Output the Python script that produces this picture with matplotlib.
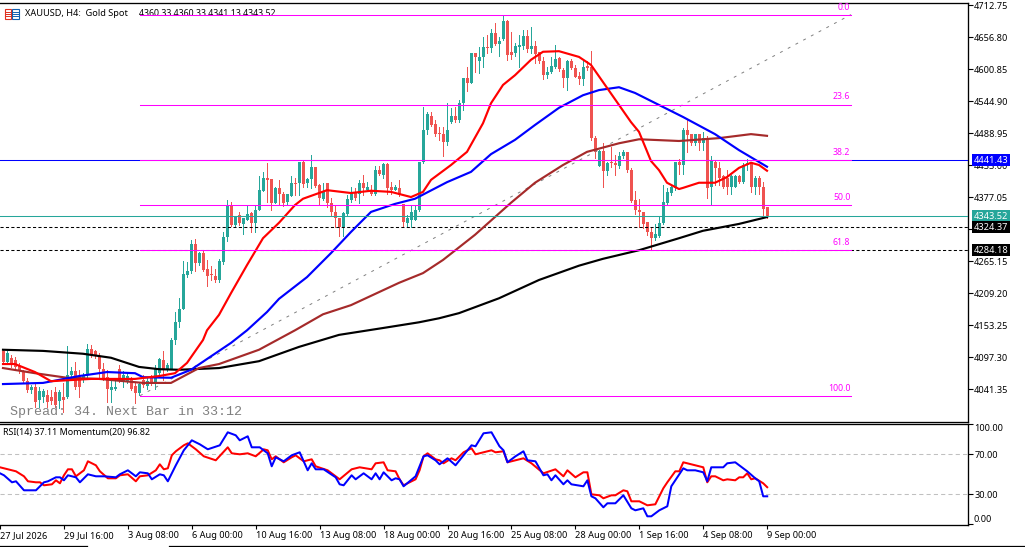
import matplotlib
matplotlib.use("Agg")
import matplotlib.pyplot as plt
from matplotlib.patches import Rectangle
from matplotlib.lines import Line2D
from matplotlib.transforms import blended_transform_factory
import numpy as np

plt.rcParams['font.family'] = ['Noto Sans', 'DejaVu Sans']

opens = [4107,4089,4095,4092,4082,4072,4056,4040,4045,4022,4028,4031,4028,4037,4021,4028,4027,4066,4073,4062,4057,4068,4112,4107,4099,4077,4062,4040,4041,4077,4054,4054,4057,4047,4035,4057,4047,4060,4054,4069,4092,4075,4077,
 4127,4159,4182,4241,4248,4295,4261,4279,4251,4241,4239,4232,4264,4307,4361,4328,4346,4330,4337,4349,4331,4355,4388,4410,4408,4367,4392,4383,4369,4379,4402,4401,4439,4401,4408,4429,4398,4373,4402,4366,4351,4340,4325,4347,4372,4385,4383,4402,4389,4389,4383,4424,4415,4435,4395,4390,4392,4365,4331,4337,4337,4354,4438,
 4494,4519,4505,4488,4488,4473,4509,4519,4511,4541,4585,4577,4628,4614,4621,4640,4637,4664,4645,4653,4685,4631,4629,4640,4641,4659,4635,4641,4631,4615,4590,4596,4604,4620,4599,4585,4615,4602,4589,4583,4606,4605,4480,4431,4458,4423,4437,4436,4431,4448,4455,4425,4372,4355,4351,4334,4315,
 4305,4309,4331,4366,4384,4392,4439,4433,4494,4487,4471,4487,4471,4480,4394,4439,4427,4413,4411,4394,4395,4414,4404,4433,4436,4394,4411,4394,4360.33]
highs = [4110,4107,4101,4098,4086,4075,4060,4048,4051,4045,4042,4040,4040,4045,4040,4051,4117,4080,4089,4075,4069,4120,4118,4110,4105,4086,4075,4055,4060,4083,4072,4069,4063,4054,4054,4066,4060,4066,4083,4095,4107,4086,4130,
 4176,4200,4266,4264,4302,4303,4281,4283,4267,4256,4252,4268,4316,4372,4369,4344,4350,4340,4361,4351,4363,4413,4420,4436,4408,4394,4406,4386,4383,4413,4410,4439,4442,4410,4451,4429,4400,4402,4402,4375,4363,4340,4350,4381,4395,4392,4407,4416,4404,4398,4431,4431,4436,4436,4404,4398,4406,4365,4346,4361,4361,4439,4535,
 4526,4526,4512,4499,4499,4541,4532,4534,4547,4585,4605,4628,4629,4639,4657,4660,4670,4682,4656,4695,4687,4666,4647,4660,4669,4669,4675,4650,4631,4622,4605,4622,4643,4621,4602,4617,4618,4608,4596,4619,4614,4633,4483,4460,4471,4439,4465,4451,4456,4460,4456,4427,4388,4373,4351,4334,4325,
 4330,4344,4398,4392,4396,4439,4443,4497,4512,4488,4488,4488,4490,4483,4448,4442,4439,4416,4424,4416,4416,4416,4436,4443,4439,4413,4414,4404,4360.33]
lows = [4085,4086,4080,4075,4069,4054,4037,4034,4010,4010,4019,4010,4016,4010,4008,4002,4025,4063,4042,4028,4054,4058,4098,4095,4060,4057,4019,4019,4040,4054,4045,4051,4040,4017,4031,4045,4042,4048,4042,4063,4057,4072,4076,
 4120,4150,4182,4237,4244,4248,4258,4248,4221,4232,4229,4229,4260,4301,4326,4326,4328,4312,4336,4315,4316,4355,4388,4369,4355,4366,4363,4361,4365,4378,4381,4381,4395,4395,4392,4394,4363,4372,4360,4346,4325,4309,4309,4344,4369,4371,4367,4381,4388,4381,4381,4415,4410,4383,4383,4389,4378,4325,4324,4324,4336,4353,4436,
 4488,4501,4483,4477,4449,4468,4507,4509,4509,4529,4563,4576,4596,4594,4605,4628,4631,4642,4624,4652,4617,4618,4624,4605,4635,4631,4629,4612,4611,4583,4585,4594,4602,4598,4569,4565,4600,4586,4575,4573,4599,4477,4445,4431,4395,4415,4430,4415,4427,4445,4421,4369,4348,4325,4322,4311,4287,
 4302,4307,4330,4363,4381,4389,4417,4418,4456,4468,4468,4459,4460,4375,4363,4398,4398,4392,4383,4382,4394,4401,4402,4424,4385,4383,4383,4343,4341.13]
closes = [4089,4104,4083,4080,4073,4056,4040,4045,4019,4038,4038,4019,4020,4013,4037,4022,4066,4073,4044,4044,4066,4112,4101,4099,4077,4060,4041,4045,4045,4057,4066,4064,4042,4035,4050,4048,4056,4052,4077,4093,4075,4083,4127,
 4159,4182,4242,4248,4295,4261,4279,4249,4239,4240,4232,4266,4308,4363,4328,4343,4331,4340,4347,4331,4355,4390,4410,4407,4367,4392,4382,4367,4382,4401,4400,4439,4400,4408,4429,4396,4375,4386,4366,4350,4340,4325,4349,4373,4385,4376,4402,4392,4395,4382,4424,4417,4435,4392,4390,4395,4381,4334,4340,4350,4355,4439,4494,
 4522,4503,4487,4487,4473,4494,4519,4511,4541,4585,4577,4628,4622,4621,4640,4638,4664,4645,4650,4685,4625,4625,4641,4643,4659,4635,4641,4627,4614,4590,4596,4606,4618,4600,4585,4615,4602,4587,4583,4604,4602,4480,4455,4458,4423,4437,4436,4433,4449,4455,4424,4370,4354,4350,4330,4315,4306,
 4312,4331,4369,4386,4394,4439,4433,4495,4485,4471,4487,4471,4480,4393,4441,4427,4411,4395,4395,4414,4414,4404,4433,4436,4394,4411,4394,4356,4343.52]

ma20_bar = [0,3,8,12,22,33,39,43,46,50,51,54,57,61,65,69,73,75,81,87,92,97,102,105,107,112,116,120,122,125,128,132,135,139,144,147,150,154,157,159,162,164,166,169,170,174,178,181,184,187,189,191]
ma20 = [4085,4085,4071,4055,4059,4059,4064,4069,4087,4127,4144,4171,4209,4258,4305,4332,4363,4374,4389,4384,4388,4386,4377,4386,4407,4433,4456,4506,4541,4573,4590,4617,4631,4632,4622,4608,4578,4538,4508,4491,4440,4424,4402,4391,4393,4402,4402,4412,4428,4437,4433,4423]
ma50_bar = [0,10,19,26,33,35,42,47,57,61,66,69,76,82,87,92,98,103,111,117,122,128,133,139,145,149,154,158,164,170,178,184,191]
ma50 = [4050,4052,4064,4071,4069,4062,4061,4075,4122,4144,4176,4199,4237,4279,4316,4351,4365,4374,4403,4421,4452,4477,4503,4533,4555,4564,4569,4559,4538,4517,4487,4459,4430]
ma100_bar = [0,8,16,24,35,42,49,54,64,73,80,87,99,105,110,118,127,133,140,146,154,159,169,179,187,191]
ma100 = [4078,4069,4061,4059,4052,4052,4078,4085,4110,4144,4172,4188,4227,4244,4267,4311,4367,4402,4433,4456,4471,4478,4475,4480,4487,4484]
ma200_bar = [0,10,20,27,34,39,44,54,64,74,84,95,104,109,114,124,134,144,150,159,169,175,184,191]
ma200 = [4110,4108,4103,4096,4080,4076,4075,4078,4090,4115,4136,4148,4158,4165,4174,4200,4232,4257,4269,4284,4305,4318,4330,4342]

fib_high = 4695.96
fib_low = 4029.6
fib_pcts = [0.0, 23.6, 38.2, 50.0, 61.8, 100.0]
fib_start_bar = 34.25
fib_end_bar = 212
level_blue = 4441.43
level_last = 4343.52
level_dash = [4324.37, 4284.18]
price_ticks = [4712.75,4656.80,4600.85,4544.90,4488.95,4433.00,4377.05,4321.10,4265.15,4209.20,4153.25,4097.30,4041.35]
price_labels = ['4712.75','4656.80','4600.85','4544.90','4488.95','4433.00','4377.05','','4265.15','4209.20','4153.25','4097.30','4041.35']

rsi_bar = [-1,1,3,5,6,8,9,10,12,13,14,15,16,17,18,20,21,23,24,26,28,29,31,33,34,36,38,39,40,41,42,43,45,46,48,50,53,56,57,59,61,63,65,66,67,68,70,72,73,75,77,78,81,84,87,89,92,93,95,96,98,99,
 100,103,104,105,106,108,109,110,112,113,115,117,118,122,123,125,126,130,132,135,138,140,141,143,145,146,147,149,150,152,153,155,156,157,159,161,163,165,166,168,169,170,173,175,176,177,178,180,181,183,184,185,186,187,188,190,191]
rsi = [57,55,53,48,43,42,42,39,40,44,41,49,55,55,48,54,63,59,53,46,46,49,50,43,48,49,54,60,55,56,69,73,79,81,75,68,64,77,71,70,71,68,75,74,65,68,62,67,69,63,65,58,54,45,55,57,55,61,62,54,53,45,
 39,45,54,68,71,65,64,61,66,64,72,76,70,74,72,73,62,66,61,51,55,48,54,47,52,52,30,29,26,29,29,34,33,23,23,19,20,36,42,53,53,62,59,57,42,48,48,44,45,44,47,47,51,45,46,41,37.11]
mom_bar = [-1,0,2,3,5,8,10,11,13,14,15,16,18,19,21,23,25,28,29,31,33,34,36,37,39,40,41,43,45,47,49,51,54,56,58,59,61,62,64,66,67,68,70,72,74,76,77,78,80,83,84,85,87,88,90,92,93,94,95,97,98,99,
 100,103,104,105,106,108,109,111,113,115,117,118,120,122,124,125,126,128,130,131,133,135,136,137,138,140,141,142,145,146,147,148,150,151,153,155,157,158,160,161,162,164,166,167,168,170,171,173,175,176,177,180,181,183,185,186,188,189,190,191]
mom_on_scale = [51,49,42,43,34,34,42,43,47,47,44,49,47,42,50,48,48,47,50,54,48,52,51,45,50,49,43,59,74,84,80,75,79,92,89,84,88,77,77,71,58,67,63,69,72,54,61,55,55,47,40,39,49,45,51,45,51,45,52,44,46,45,
 38,48,58,68,69,64,60,66,59,69,79,78,91,92,78,74,62,68,73,64,63,49,50,44,49,40,44,40,38,44,28,26,17,21,21,29,16,14,16,8,8,14,18,38,44,56,54,54,52,43,57,57,61,62,56,53,46,43,28,28]
rsi_ticks = [100, 70, 30, 0]
rsi_levels = [70, 30]
time_bars = [-1,15,31,47,63,79,95,111,127,143,159,175,191]
time_labels = ['27 Jul 2026','29 Jul 16:00','3 Aug 08:00','6 Aug 00:00','10 Aug 16:00','13 Aug 08:00','18 Aug 00:00','20 Aug 16:00','25 Aug 08:00','28 Aug 00:00','1 Sep 16:00','4 Sep 08:00','9 Sep 00:00']

W, H = 1025, 547
fig = plt.figure(figsize=(W/100, H/100), dpi=100, facecolor='white')
def box(x0, ytop, x1, ybot):
    return [x0/W, 1-ybot/H, (x1-x0)/W, (ybot-ytop)/H]

AX_R = 968
xlim = (-0.75, (AX_R-3)/4)
ax = fig.add_axes(box(0, 2.5, AX_R, 421.5))
ax.set_xlim(*xlim)
px = 1.7484
ax.set_ylim(4721.5-px*421.5, 4721.5-px*2.5)
ax2 = fig.add_axes(box(0, 424, AX_R, 525))
ax2.set_xlim(*xlim)
ax2.set_ylim(-0.7, 100.3)

TEAL, RED = '#26a69a', '#ef5350'
FS = 6.6
for a in (ax, ax2):
    a.spines['left'].set_visible(False)
    for s in ('top','right','bottom'):
        a.spines[s].set_linewidth(0.95)
    a.tick_params(axis='y', direction='out', length=3.5, width=0.8, right=True, left=False,
                  labelright=True, labelleft=False, labelsize=FS, pad=1)
    a.set_facecolor('white')

# candles
o, h, l, c = map(np.array, (opens, highs, lows, closes))
bars = np.arange(len(o))
cols = np.where(c >= o, TEAL, RED)
ax.vlines(bars, l, h, colors=cols, linewidth=0.72, zorder=2, antialiased=False)
ax.bar(bars, np.maximum(np.abs(c-o), 1.75), bottom=np.minimum(o, c), width=0.75, color=cols,
       linewidth=0, zorder=3, antialiased=False)

# moving averages
MA_LW = 1.55
ax.plot(ma200_bar, ma200, color='black', lw=MA_LW, zorder=5, solid_joinstyle='round')
ax.plot(ma100_bar, ma100, color='#a52a2a', lw=MA_LW, zorder=5)
ax.plot(ma50_bar, ma50, color='#0000ff', lw=MA_LW, zorder=5)
ax.plot(ma20_bar, ma20, color='#ff0000', lw=MA_LW, zorder=6)

# levels
LL = 0.75
ax.axhline(level_blue, color='#0000ff', lw=LL, zorder=4)
ax.axhline(level_last, color=TEAL, lw=LL, zorder=7)
for lv in level_dash:
    ax.axhline(lv, color='black', lw=LL, ls=(0, (3, 2.2)), zorder=4)

# fibonacci
ax.plot([fib_start_bar, fib_end_bar], [fib_low, fib_high], color='#808080', lw=0.7, ls=(0, (3, 6)), zorder=4)
for pct in fib_pcts:
    lv = fib_high - (fib_high-fib_low)*pct/100
    ax.plot([fib_start_bar, fib_end_bar], [lv, lv], color='#ff00ff', lw=LL, zorder=8)
    ax.annotate(f'{pct:.1f}', (fib_end_bar, lv), xytext=(-0.5, 2.2), textcoords='offset points',
                ha='right', va='bottom', color='#ff00ff', fontsize=FS-0.3, zorder=9)

ax.set_xticks([])
ax.set_yticks(price_ticks)
ax.set_yticklabels(price_labels)

# value boxes on price scale
trans = blended_transform_factory(ax.transAxes, ax.transData)
for val, bg in ((level_blue, '#0000ff'), (level_last, TEAL), (level_dash[0], 'black'), (level_dash[1], 'black')):
    xr = 972/AX_R
    ax.add_patch(Rectangle((xr, val-5.8*px), 38/AX_R, 11.6*px, transform=trans, facecolor=bg,
                           edgecolor='none', clip_on=False, zorder=20))
    ax.text(xr+2/AX_R, val-0.3*px, f'{val:.2f}', transform=trans, color='white', fontsize=FS,
            va='center', ha='left', clip_on=False, zorder=21)

# header, under the magenta 0.0 level
ax.text(25/W, 1-13.5/H, 'XAUUSD, H4:  Gold Spot', transform=fig.transFigure, fontsize=FS, va='center', ha='left', color='black', zorder=7)
ax.text(139/W, 1-13.5/H, '4360.33 4360.33 4341.13 4343.52', transform=fig.transFigure, fontsize=FS-0.3, va='center', ha='left', color='black', zorder=7)
for x0, colr in ((4.5, '#e03020'), (12, '#1060b0')):
    fig.add_artist(Rectangle((x0/W, 1-18.5/H), 6.5/W, 10/H, transform=fig.transFigure, facecolor='white', edgecolor=colr, lw=0.8))
    for yy in (11.5, 14, 16):
        fig.add_artist(Line2D([(x0+1)/W, (x0+5.5)/W], [1-yy/H]*2, color=colr, lw=0.7))

# spread
fig.text(10/W, 1-412.5/H, 'Spread: 34. Next Bar in 33:12', family='Liberation Mono', fontsize=9.6,
         color='#808080', va='center', ha='left', zorder=30)

# indicator pane
for lv in rsi_levels:
    ax2.axhline(lv, color='#c0c0c0', lw=0.75, ls=(0, (4, 3)), zorder=1)
ax2.plot(rsi_bar, rsi, color='#ff0000', lw=1.45, zorder=3)
ax2.plot(mom_bar, mom_on_scale, color='#0000ff', lw=1.45, zorder=4)
ax2.set_yticks(rsi_ticks)
ax2.set_yticklabels(['', '70.00', '30.00', ''])
tr2 = blended_transform_factory(ax2.transAxes, fig.transFigure)
ax2.text(974/AX_R, 1-428.5/H, '100.00', transform=tr2, fontsize=FS, va='center', ha='left', clip_on=False)
ax2.text(974/AX_R, 1-519.5/H, '0.00', transform=tr2, fontsize=FS, va='center', ha='left', clip_on=False)
fig.text(3/W, 1-432.5/H, 'RSI(14) 37.11 Momentum(20) 96.82', fontsize=FS-0.15, va='center', ha='left', color='black', zorder=30)

ax2.set_xticks(time_bars)
ax2.set_xticklabels(time_labels, ha='left', fontsize=FS)
ax2.tick_params(axis='x', direction='out', length=3, width=0.8, pad=1.5)

# bottom edge
for a_, b_ in ((0, 87), (169, 1025)):
    fig.add_artist(Line2D([a_/W, b_/W], [1-546.3/H]*2, color='black', lw=0.9))

fig.savefig('out.png', dpi=100)
